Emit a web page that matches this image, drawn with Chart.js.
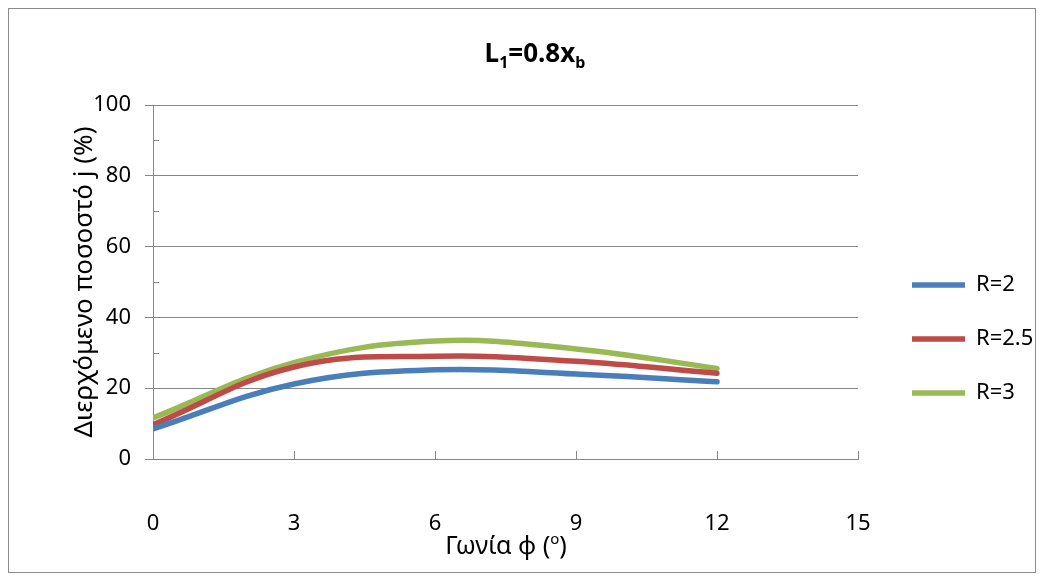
<!DOCTYPE html>
<html>
<head>
<meta charset="utf-8">
<script src="https://cdn.jsdelivr.net/npm/chart.js@4"></script>
<style>
  body { margin: 0; background: #fff; font-family: "Noto Sans", sans-serif; }
  #frame { position: absolute; left: 8px; top: 8px; width: 1028px; height: 565px; border: 1px solid #8c8c8c; box-sizing: border-box; }
  #wrap { position: absolute; left: 0; top: 0; width: 1026px; height: 563px; }
  #title { position: absolute; left: 376px; top: 28px; width: 300px; text-align: center; font-weight: bold; font-size: 26px; line-height: 30px; color: #000; }
  #title sub { font-size: 16px; vertical-align: -6px; line-height: 0; }
  #xtitle { position: absolute; left: 347px; top: 520px; width: 300px; text-align: center; font-size: 25px; line-height: 30px; color: #000; }
  #xtitle sup { font-size: 15px; vertical-align: 10px; line-height: 0; }
</style>
</head>
<body>
<div id="frame">
  <div id="wrap"><canvas id="chart"></canvas></div>
  <div id="title">L<sub>1</sub>=0.8x<sub>b</sub></div>
  <div id="xtitle">Γωνία φ (<sup>ο</sup>)</div>
</div>
<script>
// Dữ liệu
const angles = [0, 3, 6, 9, 12];
const seriesR2 = [8.5, 21.2, 25.2, 24.0, 21.8];
const seriesR25 = [9.7, 26.0, 29.0, 27.6, 24.2];
const seriesR3 = [11.6, 27.2, 33.3, 31.1, 25.6];
const seriesNames = ['R=2', 'R=2.5', 'R=3'];
const seriesColors = ['#4a7ebb', '#be4b48', '#98b954'];
const xTickValues = [3, 6, 9, 12, 15];
const yMinorTicks = [10, 30, 50, 70, 90];
const yAxisTitle = 'Διερχόμενο ποσοστό j (%)';

const AXIS_GREY = '#868686';

function toPoints(values) {
    return angles.map((a, i) => ({ x: a, y: values[i] }));
}

// vạch chia nhỏ hướng vào trong, giống Excel
const axisTicks = {
    id: 'axisTicks',
    beforeDatasetsDraw(chart) {
        const { ctx, chartArea, scales } = chart;
        ctx.save();
        ctx.strokeStyle = AXIS_GREY;
        ctx.lineWidth = 1;
        ctx.beginPath();
        xTickValues.forEach(v => {
            const px = Math.round(scales.x.getPixelForValue(v)) + 0.5;
            ctx.moveTo(px, chartArea.bottom);
            ctx.lineTo(px, chartArea.bottom - 8);
        });
        yMinorTicks.forEach(v => {
            const py = Math.round(scales.y.getPixelForValue(v)) + 0.5;
            ctx.moveTo(chartArea.left, py);
            ctx.lineTo(chartArea.left + 6, py);
        });
        ctx.stroke();
        ctx.restore();
    }
};

// cố định kích thước / vị trí chú giải
const legendPlace = {
    id: 'legendPlace',
    beforeLayout(chart) {
        const lg = chart.legend;
        if (lg && !lg._patched) {
            const fit = lg.fit;
            lg.fit = function() { fit.call(this); this.width = 177; };
            lg._patched = true;
        }
    },
    afterLayout(chart) {
        const lg = chart.legend;
        if (!lg) return;
        const h = lg.height;
        lg.left = chart.chartArea.right + 22;
        lg.right = lg.left + 177;
        lg.top = 233;
        lg.bottom = lg.top + h;
    }
};

const ctx = document.getElementById('chart');
new Chart(ctx, {
    type: 'line',
    data: {
        datasets: [seriesR2, seriesR25, seriesR3].map((vals, i) => ({
            label: seriesNames[i],
            data: toPoints(vals),
            borderColor: seriesColors[i],
            backgroundColor: seriesColors[i],
            borderWidth: 5.5,
            borderCapStyle: 'round',
            borderJoinStyle: 'round',
            pointRadius: 0,
            pointHoverRadius: 0,
            pointStyle: 'line',
            tension: 0.4,
            fill: false
        }))
    },
    options: {
        responsive: true,
        maintainAspectRatio: false,
        animation: false,
        layout: { padding: { top: 96, left: 0, right: 0, bottom: 0 } },
        plugins: {
            title: { display: false },
            tooltip: { enabled: false },
            legend: {
                position: 'right',
                align: 'start',
                labels: {
                    usePointStyle: true,
                    pointStyle: 'line',
                    pointStyleWidth: 53,
                    boxHeight: 6,
                    padding: 32,
                    color: '#000',
                    font: { family: 'Noto Sans', size: 22 }
                }
            }
        },
        scales: {
            x: {
                type: 'linear',
                min: 0,
                max: 15,
                afterFit: s => { s.height = 113; },
                afterBuildTicks: s => { s.ticks = [0].concat(xTickValues).map(v => ({ value: v })); },
                grid: { drawOnChartArea: false, drawTicks: false },
                border: { color: AXIS_GREY, width: 1 },
                ticks: {
                    padding: 52,
                    color: '#000',
                    font: { family: 'Noto Sans', size: 22 }
                }
            },
            y: {
                min: 0,
                max: 100,
                afterFit: s => { s.width = 144; },
                grid: { color: AXIS_GREY, lineWidth: 1, tickLength: 8 },
                border: { color: AXIS_GREY, width: 1 },
                ticks: {
                    stepSize: 20,
                    padding: 14,
                    color: '#000',
                    font: { family: 'Noto Sans', size: 22 }
                },
                title: {
                    display: true,
                    text: yAxisTitle,
                    color: '#000',
                    padding: { top: 60, bottom: 0 },
                    font: { family: 'Noto Sans', size: 26 }
                }
            }
        }
    },
    plugins: [axisTicks, legendPlace]
});
</script>
</body>
</html>
